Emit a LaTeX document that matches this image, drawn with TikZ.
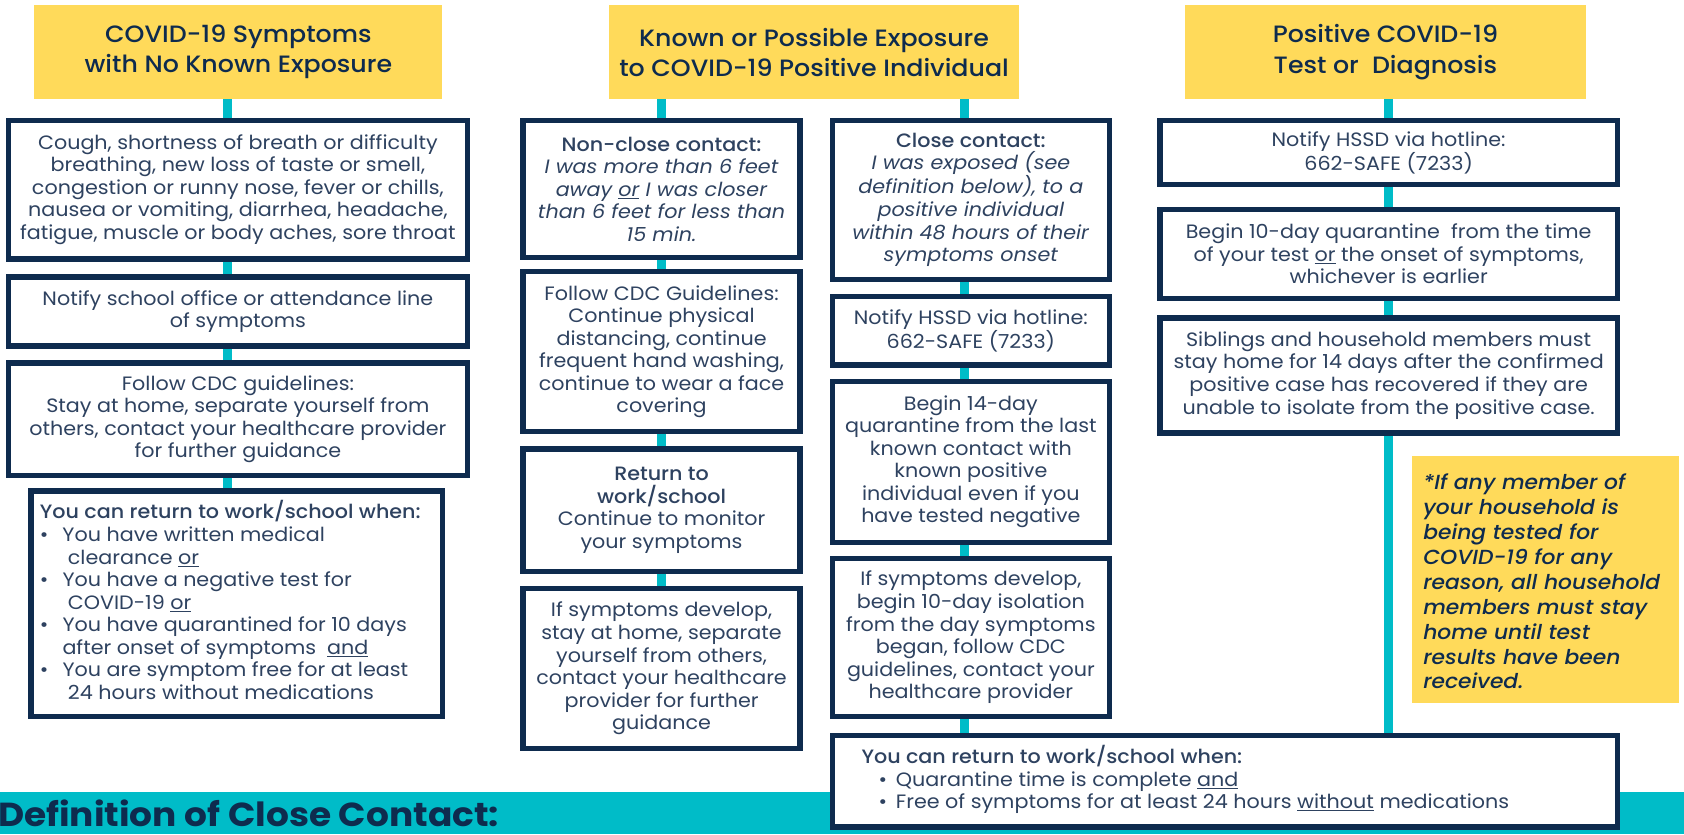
\documentclass[tikz,border=0pt]{standalone}
\usepackage{fontspec}
\setmainfont{Poppins}[FakeStretch=1.07]
\newfontfamily\medf{Poppins Medium}[FakeStretch=1.07]
\newfontfamily\semif{Poppins SemiBold}[FakeStretch=1.07]
\newfontfamily\boldf{Poppins Bold}[FakeStretch=1.08]
\definecolor{navy}{HTML}{0E2B4E}
\definecolor{txt}{HTML}{2E4260}
\definecolor{tealc}{HTML}{00BCC8}
\definecolor{yel}{HTML}{FFDA5A}
\tikzset{
  box/.style={draw=navy, line width=5pt, fill=white, inner sep=0pt, align=center, text=txt,
    font=\fontsize{18}{21}\selectfont},
  head/.style={fill=yel, inner sep=0pt, align=center, text=navy,
    font=\medf\fontsize{22}{28}\selectfont},
  conn/.style={draw=tealc, line width=8pt},
  ltext/.style={inner sep=0pt, align=left, text=txt, anchor=north west,
    font=\fontsize{18}{21}\selectfont},
}
\newcommand\bul{\makebox[21pt][l]{\textbullet}}
\newcommand\bx[6][box]{\node[#1, minimum width={(#4-#2)*1pt}, minimum height={(#5-#3)*1pt}] (#6) at ({(#2+#4)/2},{(#3+#5)/2})}
\begin{document}
\begin{tikzpicture}[x=1pt,y=-1pt]
\useasboundingbox (0,0) rectangle (1568,777);
\fill[white] (0,0) rectangle (1568,777);
% bottom band
\fill[tealc] (0,737) rectangle (1568,777);
\node[anchor=west, inner sep=0pt, text=navy, font=\boldf\fontsize{31}{36}\selectfont] (def) at (-2,757) {Definition of Close Contact:};
% headers
\bx[head]{32}{5}{412}{92}{h1} {COVID-19 Symptoms\\with No Known Exposure};
\bx[head]{567}{5}{949}{92}{h2} {Known or Possible Exposure\\to COVID-19 Positive Individual};
\bx[head]{1103}{5}{1477}{92}{h3} {Positive COVID-19\\Test or\ \ Diagnosis};
% connectors
\draw[conn] (212,92) -- (212,667);
\draw[conn] (616,92) -- (616,697);
\draw[conn] (898,92) -- (898,685);
\draw[conn] (1293,92) -- (1293,685);
% column 1
\bx{8}{112}{435}{241}{b1} {Cough, shortness of breath or difficulty\\breathing, new loss of taste or smell,\\congestion or runny nose, fever or chills,\\nausea or vomiting, diarrhea, headache,\\fatigue, muscle or body aches, sore throat};
\bx{8}{258}{435}{322}{b2} {Notify school office or attendance line\\of symptoms};
\bx{8}{338}{435}{443}{b3} {Follow CDC guidelines:\\Stay at home, separate yourself from\\others, contact your healthcare provider\\for further guidance};
\bx{29}{457}{412}{667}{b4} {};
\node[ltext] (b4t) at (37,466) {{\medf You can return to work/school when:}\\
\bul You have written medical\\
\hspace*{26pt}clearance \underline{or}\\
\bul You have a negative test for\\
\hspace*{26pt}COVID-19 \underline{or}\\
\bul You have quarantined for 10 days\\
\hspace*{21pt}after onset of symptoms\ \ \underline{and}\\
\bul You are symptom free for at least\\
\hspace*{26pt}24 hours without medications};
% column 2 left
\bx{487}{112}{745}{240}{c1} {{\medf Non-close contact:}\\\textit{I was more than 6 feet}\\\textit{away \underline{or} I was closer}\\\textit{than 6 feet for less than}\\\textit{15 min.}};
\bx{487}{253}{745}{402}{c2} {Follow CDC Guidelines:\\Continue physical\\distancing, continue\\frequent hand washing,\\continue to wear a face\\covering};
\bx{487}{418}{745}{532}{c3} {{\medf Return to}\\{\medf work/school}\\Continue to monitor\\your symptoms};
\bx{487}{548}{745}{697}{c4} {If symptoms develop,\\stay at home, separate\\yourself from others,\\contact your healthcare\\provider for further\\guidance};
% column 2 right
\bx{775}{112}{1033}{260}{d1} {{\medf Close contact:}\\\textit{I was exposed (see}\\\textit{definition below), to a}\\\textit{positive individual}\\\textit{within 48 hours of their}\\\textit{symptoms onset}};
\bx{775}{276}{1033}{340}{d2} {Notify HSSD via hotline:\\662-SAFE (7233)};
\bx{775}{355}{1033}{505}{d3} {Begin 14-day\\quarantine from the last\\known contact with\\known positive\\individual even if you\\have tested negative};
\bx{775}{520}{1033}{667}{d4} {If symptoms develop,\\begin 10-day isolation\\from the day symptoms\\began, follow CDC\\guidelines, contact your\\healthcare provider};
\bx{775}{685}{1506}{770}{e} {};
\node[ltext] (et) at (802,694) {{\medf You can return to work/school when:}\\
\hspace*{16pt}\makebox[16pt][l]{\textbullet}Quarantine time is complete \underline{and}\\
\hspace*{16pt}\makebox[16pt][l]{\textbullet}Free of symptoms for at least 24 hours \underline{without} medications};
% column 3
\bx{1080}{112}{1506}{172}{f1} {Notify HSSD via hotline:\\662-SAFE (7233)};
\bx{1080}{195}{1506}{278}{f2} {Begin 10-day quarantine\ \ from the time\\of your test \underline{or} the onset of symptoms,\\whichever is earlier};
\bx{1080}{296}{1506}{403}{f3} {Siblings and household members must\\stay home for 14 days after the confirmed\\positive case has recovered if they are\\unable to isolate from the positive case.};
% note
\fill[yel] (1315,425) rectangle (1563,655);
\node[inner sep=0pt, align=left, anchor=north west, text=navy, font=\medf\itshape\fontsize{19}{23.2}\selectfont] (notet) at (1325,441) {*If any member of\\your household is\\being tested for\\COVID-19 for any\\reason, all household\\members must stay\\home until test\\results have been\\received.};
\end{tikzpicture}
\end{document}
